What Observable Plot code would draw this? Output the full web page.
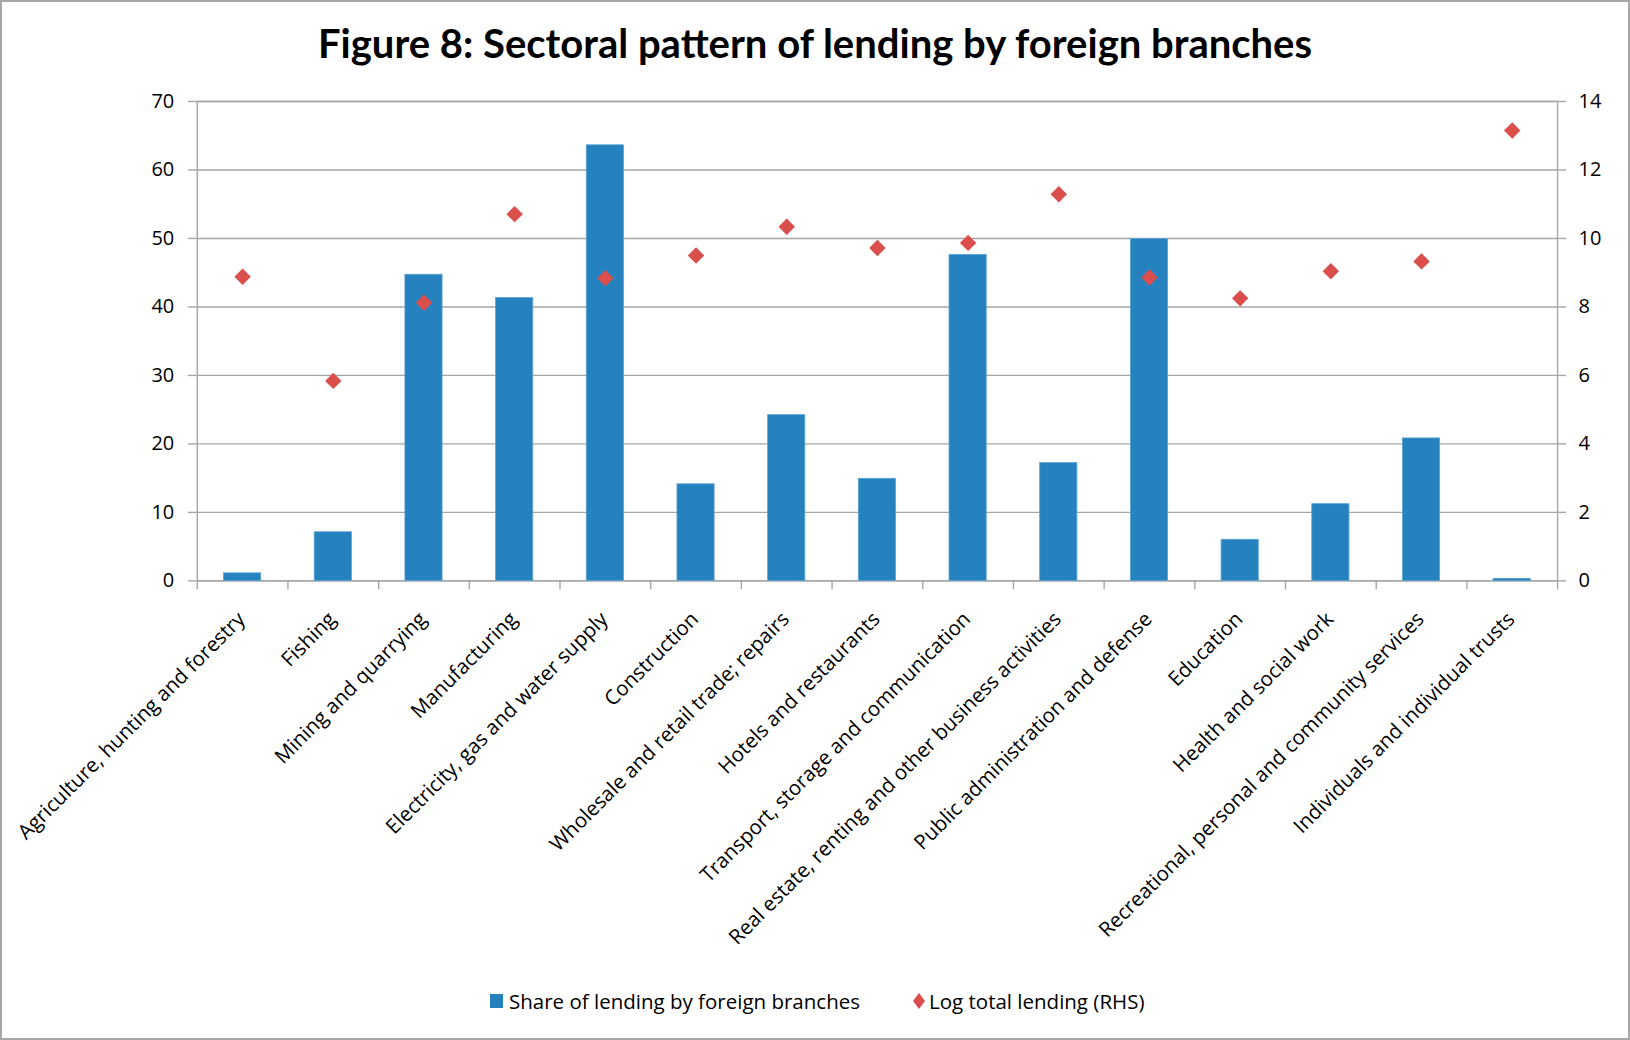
<!DOCTYPE html>
<html>
<head>
<meta charset="utf-8">
<script src="https://cdn.jsdelivr.net/npm/d3@7"></script>
<script src="https://cdn.jsdelivr.net/npm/@observablehq/plot@0.6"></script>
<style>
  html, body { margin: 0; padding: 0; background: #fff; }
  #wrap { position: relative; width: 1630px; height: 1040px; box-sizing: border-box; border: 2px solid #a6a6a6; background: #fff; overflow: hidden; font-family: "Open Sans", sans-serif; }
  #title { position: absolute; top: 17px; left: 0; width: 100%; text-align: center; font-family: Lato, "Open Sans", sans-serif; font-weight: 700; font-size: 40px; color: #000; }
  #chart { position: absolute; top: 74px; left: -2px; }
  #legend { position: absolute; top: 985px; left: 488px; font-size: 20.5px; color: #000; display: flex; align-items: center; }
  #legend .item { display: flex; align-items: center; }
  #legend .sq { width: 13px; height: 14px; background: #2681BF; margin-right: 6px; }
</style>
</head>
<body>
<div id="wrap">
  <div id="title">Figure 8: Sectoral pattern of lending by foreign branches</div>
  <div id="chart"></div>
  <div id="legend"></div>
</div>
<script>
const categories = [
  "Agriculture, hunting and forestry",
  "Fishing",
  "Mining and quarrying",
  "Manufacturing",
  "Electricity, gas and water supply",
  "Construction",
  "Wholesale and retail trade; repairs",
  "Hotels and restaurants",
  "Transport, storage and communication",
  "Real estate, renting and other business activities",
  "Public administration and defense",
  "Education",
  "Health and social work",
  "Recreational, personal and community services",
  "Individuals and individual trusts"
];
const shareForeign = [1.1, 7.1, 44.7, 41.3, 63.6, 14.1, 24.2, 14.9, 47.6, 17.2, 49.9, 6.0, 11.2, 20.8, 0.3];
const logTotal = [8.88, 5.84, 8.12, 10.71, 8.84, 9.50, 10.34, 9.72, 9.87, 11.29, 8.86, 8.25, 9.04, 9.33, 13.15];
const leftTicks = [0, 10, 20, 30, 40, 50, 60, 70];
const rightTicks = [0, 2, 4, 6, 8, 10, 12, 14];
const seriesNames = ["Share of lending by foreign branches", "Log total lending (RHS)"];

const data = categories.map((c, i) => ({cat: c, share: shareForeign[i], log: logTotal[i]}));
const ratio = leftTicks[leftTicks.length - 1] / rightTicks[rightTicks.length - 1];

const W = 1630, H = 880, mL = 197, mR = 71, mT = 25, mB = 375;
const step = (W - mL - mR) / categories.length;
const gridColor = "#a6a6a6";
const barColor = "#2681BF";
const dotColor = "#DA4E4B";

const chart = Plot.plot({
  width: W,
  height: H,
  marginLeft: mL,
  marginRight: mR,
  marginTop: mT,
  marginBottom: mB,
  style: {fontFamily: "'Open Sans', sans-serif", fontSize: "20px", color: "#000", background: "transparent"},
  x: {domain: categories, paddingInner: 0.59, paddingOuter: 0.295, round: false, label: null},
  y: {domain: [0, 70], label: null},
  marks: [
    Plot.ruleY(leftTicks, {y: d => d, stroke: gridColor, strokeWidth: 1.4}),
    Plot.frame({stroke: gridColor, strokeWidth: 1.4}),
    Plot.barY(data, {x: "cat", y: "share", fill: barColor, stroke: "#5aa3d6", strokeWidth: 0.8}),
    Plot.dot(data, {x: "cat", y: d => d.log * ratio, symbol: "diamond2", r: 7.4, fill: dotColor, stroke: "none"}),
    Plot.ruleX(categories, {x: d => d, y1: 0, y2: -1.3, dx: -step / 2, stroke: gridColor, strokeWidth: 1.4}),
    Plot.ruleX([categories[categories.length - 1]], {x: d => d, y1: 0, y2: -1.3, dx: step / 2, stroke: gridColor, strokeWidth: 1.4}),
    Plot.axisY(leftTicks, {anchor: "left", tickSize: 9, tickPadding: 14, stroke: gridColor, strokeWidth: 1.4, fill: "#000", fontSize: 20, label: null}),
    Plot.axisY(rightTicks.map(t => t * ratio), {anchor: "right", tickSize: 8, tickPadding: 13, stroke: gridColor, strokeWidth: 1.4, fill: "#000", fontSize: 20, tickFormat: d => String(d / ratio), label: null}),
    Plot.axisX({tickSize: 0, tickRotate: -45, tickPadding: 35, fill: "#000", fontSize: 20.5, label: null, dx: -1})
  ]
});
document.getElementById("chart").appendChild(chart);

const legend = document.getElementById("legend");
legend.innerHTML = `
  <div class="item"><div class="sq"></div><span>${seriesNames[0]}</span></div>
  <div class="item" style="margin-left:51px"><svg width="16" height="18" style="margin-right:2px"><path d="M8,1 L14,9 L8,17 L2,9 Z" fill="${dotColor}"/></svg><span>${seriesNames[1]}</span></div>
`;
</script>
</body>
</html>
